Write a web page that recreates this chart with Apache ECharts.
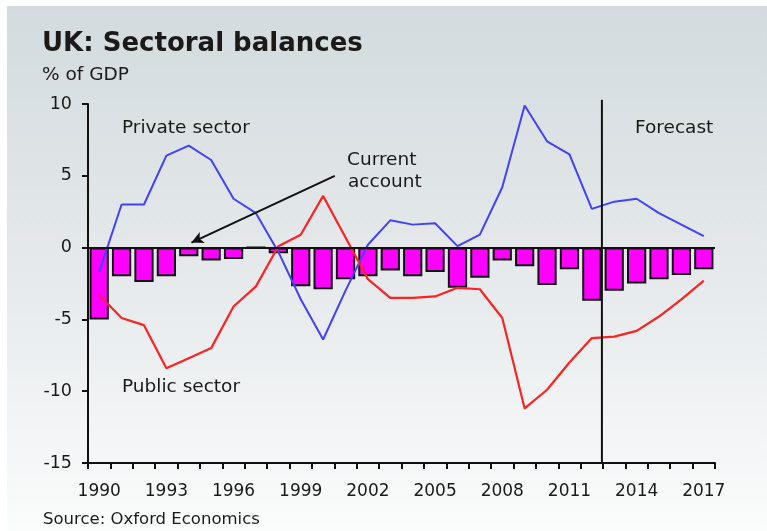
<!DOCTYPE html>
<html>
<head>
<meta charset="utf-8">
<style>
  html, body { margin: 0; padding: 0; background: #fff; }
  #chart { width: 767px; height: 531px; }
</style>
<script src="https://cdn.jsdelivr.net/npm/echarts@6/dist/echarts.min.js"></script>
</head>
<body>
<div id="chart"></div>
<script>
  // UK sectoral balances, % of GDP
  var years = ['1990','1991','1992','1993','1994','1995','1996','1997','1998','1999',
               '2000','2001','2002','2003','2004','2005','2006','2007','2008','2009',
               '2010','2011','2012','2013','2014','2015','2016','2017'];
  var currentAccount = [-5.0,-2.0,-2.4,-2.0,-0.6,-0.9,-0.8,0,-0.4,-2.7,
                        -2.9,-2.2,-2.0,-1.6,-2.0,-1.7,-2.8,-2.1,-0.9,-1.3,
                        -2.6,-1.5,-3.7,-3.0,-2.5,-2.2,-1.9,-1.5];
  var privateSector = [-1.7,3.0,3.0,6.4,7.1,6.1,3.4,2.4,-0.3,-3.6,
                       -6.4,-3.0,0.2,1.9,1.6,1.7,0.1,0.9,4.2,9.9,
                       7.4,6.5,2.7,3.2,3.4,2.4,1.6,0.8];
  var publicSector = [-3.3,-4.9,-5.4,-8.4,-7.7,-7.0,-4.1,-2.7,0.1,0.9,
                      3.6,0.7,-2.2,-3.5,-3.5,-3.4,-2.8,-2.9,-4.9,-11.2,
                      -9.9,-8.0,-6.3,-6.2,-5.8,-4.8,-3.6,-2.3];
  var forecastStart = 22.95; // position on the 0..28 year scale

  var font = 'DejaVu Sans';
  var ink = '#1a1a1a';

  var chart = echarts.init(document.getElementById('chart'));

  function txt(text, x, y, size, weight) {
    return {
      type: 'text', x: x, y: y, z: 10, silent: true,
      style: {
        text: text, fill: ink, font: (weight || 'normal') + ' ' + size + 'px "' + font + '"',
        align: 'left', verticalAlign: 'middle'
      }
    };
  }

  chart.setOption({
    animation: false,
    backgroundColor: '#ffffff',
    graphic: [
      {
        type: 'rect', x: 7, y: 6, z: -10, silent: true,
        shape: { width: 760, height: 525 },
        style: {
          fill: new echarts.graphic.LinearGradient(0, 0, 0, 1, [
            { offset: 0, color: '#d3dbde' },
            { offset: 0.5, color: '#e5e9eb' },
            { offset: 1, color: '#fbfcfc' }
          ])
        }
      },
      txt('UK: Sectoral balances', 42, 44, 26, 'bold'),
      txt('% of GDP', 42, 75, 18.5),
      txt('Private sector', 122, 128, 18.5),
      txt('Forecast', 635, 128, 18.5),
      txt('Current', 347, 160, 18.5),
      txt('account', 348, 182, 18.5),
      txt('Public sector', 122, 387, 18.5),
      txt('Source: Oxford Economics', 43, 520, 16.5)
    ],
    grid: { left: 88, right: 52, top: 104, bottom: 68 },
    xAxis: [{
      type: 'category',
      data: years,
      boundaryGap: true,
      axisLine: { show: true, onZero: false, lineStyle: { color: '#111', width: 2 } },
      axisTick: { show: true, interval: 0, length: 6, lineStyle: { color: '#111', width: 2 } },
      axisLabel: { interval: 2, margin: 20, color: ink, fontFamily: font, fontSize: 17, lineHeight: 18 },
      splitLine: { show: false }
    }, {
      type: 'value', min: 0, max: 28, show: false
    }],
    yAxis: {
      type: 'value',
      min: -15, max: 10, interval: 5,
      axisLine: { show: true, onZero: false, lineStyle: { color: '#111', width: 2 } },
      axisTick: { show: true, length: 6, lineStyle: { color: '#111', width: 2 } },
      axisLabel: { margin: 16, color: ink, fontFamily: font, fontSize: 17.5 },
      splitLine: { show: false }
    },
    series: [
      {
        name: 'Current account',
        type: 'bar',
        data: currentAccount,
        barCategoryGap: '14%',
        itemStyle: { color: '#ff00ff', borderColor: '#111', borderWidth: 2 },
        markLine: {
          silent: true, symbol: 'none', label: { show: false },
          lineStyle: { color: '#111', width: 2, type: 'solid' },
          data: [{ yAxis: 0 }]
        }
      },
      {
        name: 'Private sector',
        type: 'line',
        data: privateSector,
        symbol: 'none',
        lineStyle: { color: '#4141ff', width: 2 },
        z: 3
      },
      {
        name: 'Public sector',
        type: 'line',
        data: publicSector,
        symbol: 'none',
        lineStyle: { color: '#ff2222', width: 2.2 },
        z: 3
      },
      {
        // annotations: forecast divider and "current account" arrow
        type: 'line',
        xAxisIndex: 1,
        data: [[forecastStart, -15], [forecastStart, 10.3]],
        symbol: 'none',
        clip: false,
        lineStyle: { color: '#111', width: 2 },
        markLine: {
          silent: true, label: { show: false },
          data: [
            [{ coord: [11.02, 5.0], symbol: 'none' },
             { coord: [4.62, 0.35], symbol: 'arrow', symbolSize: [9, 12] }]
          ],
          lineStyle: { color: '#111', width: 2, type: 'solid' }
        },
        z: 4
      }
    ]
  });
</script>
</body>
</html>
